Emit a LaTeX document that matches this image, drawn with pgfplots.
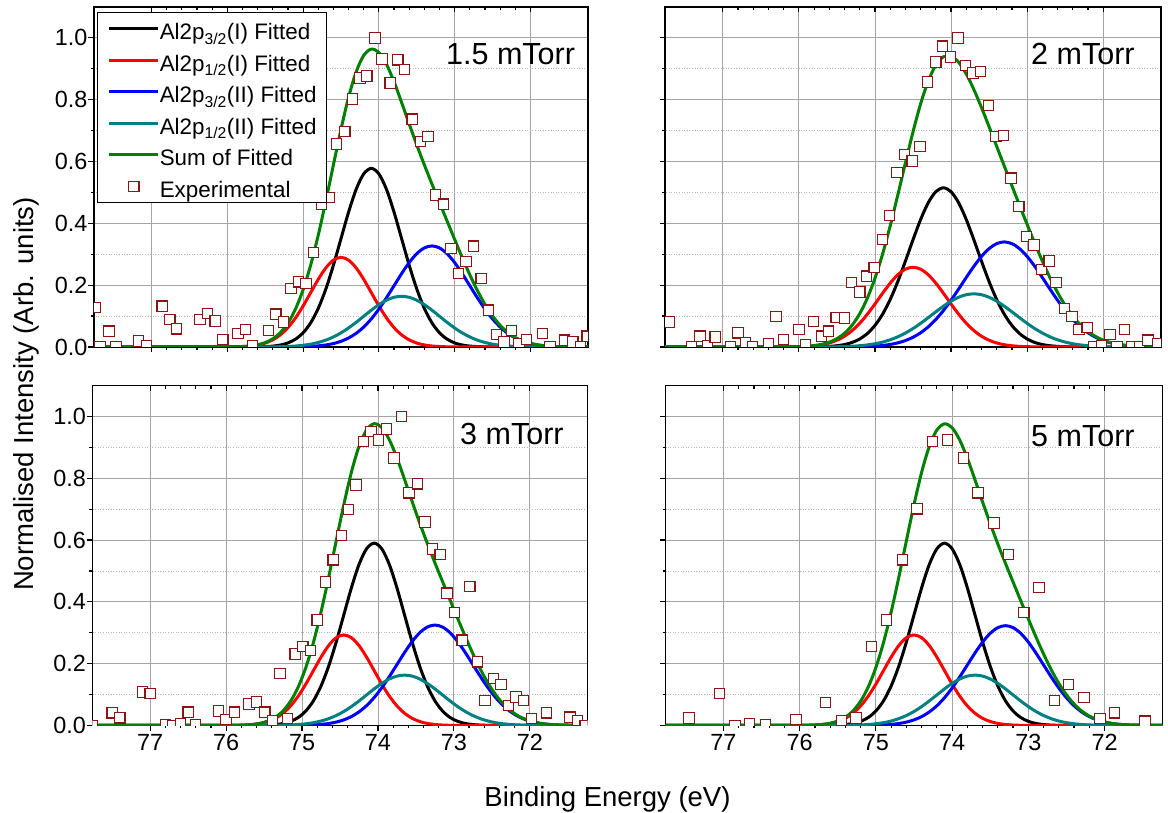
\documentclass[border=0pt]{standalone}
\usepackage{pgfplots}
\pgfplotsset{compat=1.18}
\usepackage{pgfplotstable}
\usepackage{fontspec}
\setmainfont{Liberation Sans}

\definecolor{fitred}{RGB}{255,0,0}
\definecolor{fitblue}{RGB}{0,0,255}
\definecolor{fitteal}{RGB}{0,128,128}
\definecolor{fitgreen}{RGB}{0,128,0}
\definecolor{expred}{RGB}{140,20,20}
\definecolor{gridgray}{RGB}{165,165,165}
\definecolor{minorgray}{RGB}{185,185,185}

% Fitted components: x, Al2p3/2(I), Al2p1/2(I), Al2p3/2(II), Al2p1/2(II), sum
\pgfplotstableread{
x B R U T S
77.8 0 0 0 0 0
76.0 0 0.0003 0 0 0.0003
75.9 0 0.0006 0 0 0.0006
75.8 0.0001 0.0015 0 0 0.0016
75.7 0.0002 0.0032 0 0 0.0034
75.6 0.0005 0.0066 0 0.0001 0.0072
75.5 0.0013 0.0127 0 0.0002 0.0142
75.4 0.0029 0.0231 0.0001 0.0005 0.0266
75.3 0.0064 0.0392 0.0001 0.0010 0.0467
75.2 0.0132 0.0627 0.0002 0.0018 0.0779
75.1 0.0254 0.0942 0.0005 0.0032 0.1233
75.0 0.0460 0.1328 0.0010 0.0056 0.1854
74.9 0.0782 0.1759 0.0020 0.0092 0.2653
74.8 0.1250 0.2189 0.0036 0.0146 0.3621
74.7 0.1877 0.2559 0.0065 0.0222 0.4723
74.6 0.2646 0.2811 0.0111 0.0325 0.5893
74.5 0.3506 0.2900 0.0183 0.0456 0.7045
74.4 0.4363 0.2811 0.0291 0.0615 0.8080
74.3 0.5101 0.2559 0.0442 0.0798 0.8900
74.2 0.5602 0.2189 0.0647 0.0995 0.9433
74.1 0.5780 0.1759 0.0909 0.1191 0.9639
74.0 0.5602 0.1328 0.1227 0.1370 0.9527
73.9 0.5101 0.0942 0.1592 0.1514 0.9149
73.8 0.4363 0.0627 0.1983 0.1608 0.8581
73.7 0.3506 0.0392 0.2374 0.1640 0.7912
73.6 0.2646 0.0231 0.2731 0.1608 0.7216
73.5 0.1877 0.0127 0.3019 0.1514 0.6537
73.4 0.1250 0.0066 0.3205 0.1370 0.5891
73.3 0.0782 0.0032 0.3270 0.1191 0.5275
73.2 0.0460 0.0015 0.3205 0.0995 0.4675
73.1 0.0254 0.0006 0.3019 0.0798 0.4077
73.0 0.0132 0.0003 0.2731 0.0615 0.3481
72.9 0.0064 0.0001 0.2374 0.0456 0.2895
72.8 0.0029 0 0.1983 0.0325 0.2337
72.7 0.0013 0 0.1592 0.0222 0.1827
72.6 0.0005 0 0.1227 0.0146 0.1378
72.5 0.0002 0 0.0909 0.0092 0.1003
72.4 0.0001 0 0.0647 0.0056 0.0704
72.3 0 0 0.0442 0.0032 0.0474
72.2 0 0 0.0291 0.0018 0.0309
72.1 0 0 0.0183 0.0010 0.0193
72.0 0 0 0.0111 0.0005 0.0116
71.9 0 0 0.0065 0.0002 0.0067
71.8 0 0 0.0036 0.0001 0.0037
71.7 0 0 0.0020 0 0.0020
71.6 0 0 0.0010 0 0.0010
71.2 0 0 0 0 0
}\fitA

\pgfplotstableread{
x B R U T S
77.8 0 0 0 0 0
76.1 0 0.0005 0 0 0.0005
76.0 0.0001 0.0010 0 0 0.0011
75.9 0.0002 0.0020 0 0.0001 0.0023
75.8 0.0004 0.0040 0 0.0001 0.0045
75.7 0.0009 0.0074 0 0.0002 0.0085
75.6 0.0020 0.0130 0.0001 0.0004 0.0155
75.5 0.0041 0.0219 0.0001 0.0008 0.0269
75.4 0.0079 0.0349 0.0002 0.0014 0.0444
75.3 0.0147 0.0531 0.0004 0.0025 0.0707
75.2 0.0260 0.0769 0.0009 0.0042 0.1080
75.1 0.0436 0.1061 0.0016 0.0067 0.1580
75.0 0.0697 0.1392 0.0029 0.0105 0.2223
74.9 0.1060 0.1738 0.0049 0.0159 0.3006
74.8 0.1536 0.2066 0.0083 0.0233 0.3918
74.7 0.2117 0.2337 0.0133 0.0329 0.4916
74.6 0.2778 0.2517 0.0208 0.0451 0.5954
74.5 0.3469 0.2580 0.0315 0.0597 0.6961
74.4 0.4124 0.2517 0.0460 0.0765 0.7866
74.3 0.4666 0.2337 0.0651 0.0949 0.8603
74.2 0.5024 0.2066 0.0891 0.1138 0.9119
74.1 0.5150 0.1738 0.1180 0.1320 0.9388
74.0 0.5024 0.1392 0.1513 0.1482 0.9411
73.9 0.4666 0.1061 0.1875 0.1610 0.9212
73.8 0.4124 0.0769 0.2249 0.1692 0.8834
73.7 0.3469 0.0531 0.2610 0.1720 0.8330
73.6 0.2778 0.0349 0.2930 0.1692 0.7749
73.5 0.2117 0.0219 0.3182 0.1610 0.7128
73.4 0.1536 0.0130 0.3344 0.1482 0.6492
73.3 0.1060 0.0074 0.3400 0.1320 0.5854
73.2 0.0697 0.0040 0.3344 0.1138 0.5219
73.1 0.0436 0.0020 0.3182 0.0949 0.4587
73.0 0.0260 0.0010 0.2930 0.0765 0.3965
72.9 0.0147 0.0005 0.2610 0.0597 0.3359
72.8 0.0079 0.0002 0.2249 0.0451 0.2781
72.7 0.0041 0.0001 0.1875 0.0329 0.2246
72.6 0.0020 0 0.1513 0.0233 0.1766
72.5 0.0009 0 0.1180 0.0159 0.1348
72.4 0.0004 0 0.0891 0.0105 0.1000
72.3 0.0002 0 0.0651 0.0067 0.0720
72.2 0.0001 0 0.0460 0.0042 0.0503
72.1 0 0 0.0315 0.0025 0.0340
72.0 0 0 0.0208 0.0014 0.0222
71.9 0 0 0.0133 0.0008 0.0141
71.8 0 0 0.0083 0.0004 0.0087
71.7 0 0 0.0049 0.0002 0.0051
71.6 0 0 0.0029 0.0001 0.0030
71.5 0 0 0.0016 0 0.0016
71.4 0 0 0.0009 0 0.0009
71.2 0 0 0 0 0
}\fitB

\pgfplotstableread{
x B R U T S
77.8 0 0 0 0 0
75.95 0 0.0003 0 0 0.0003
75.85 0 0.0006 0 0 0.0006
75.75 0.0001 0.0015 0 0 0.0016
75.65 0.0002 0.0033 0 0 0.0035
75.55 0.0005 0.0067 0 0.0001 0.0073
75.45 0.0013 0.0129 0 0.0002 0.0144
75.35 0.0030 0.0233 0.0001 0.0005 0.0269
75.25 0.0065 0.0396 0.0001 0.0010 0.0472
75.15 0.0135 0.0634 0.0002 0.0018 0.0789
75.05 0.0259 0.0951 0.0005 0.0032 0.1247
74.95 0.0470 0.1341 0.0010 0.0055 0.1876
74.85 0.0798 0.1777 0.0020 0.0091 0.2686
74.75 0.1276 0.2212 0.0036 0.0145 0.3669
74.65 0.1916 0.2586 0.0064 0.0221 0.4787
74.55 0.2701 0.2840 0.0111 0.0323 0.5975
74.45 0.3578 0.2930 0.0182 0.0453 0.7143
74.35 0.4453 0.2840 0.0289 0.0612 0.8194
74.25 0.5207 0.2586 0.0440 0.0793 0.9026
74.15 0.5718 0.2212 0.0643 0.0989 0.9562
74.05 0.5900 0.1777 0.0904 0.1184 0.9765
73.95 0.5718 0.1341 0.1220 0.1362 0.9641
73.85 0.5207 0.0951 0.1582 0.1505 0.9245
73.75 0.4453 0.0634 0.1971 0.1598 0.8656
73.65 0.3578 0.0396 0.2360 0.1630 0.7964
73.55 0.2701 0.0233 0.2715 0.1598 0.7247
73.45 0.1916 0.0129 0.3000 0.1505 0.6550
73.35 0.1276 0.0067 0.3186 0.1362 0.5891
73.25 0.0798 0.0033 0.3250 0.1184 0.5265
73.15 0.0470 0.0015 0.3186 0.0989 0.4660
73.05 0.0259 0.0006 0.3000 0.0793 0.4058
72.95 0.0135 0.0003 0.2715 0.0612 0.3465
72.85 0.0065 0.0001 0.2360 0.0453 0.2879
72.75 0.0030 0 0.1971 0.0323 0.2324
72.65 0.0013 0 0.1582 0.0221 0.1816
72.55 0.0005 0 0.1220 0.0145 0.1370
72.45 0.0002 0 0.0904 0.0091 0.0997
72.35 0.0001 0 0.0643 0.0055 0.0699
72.25 0 0 0.0440 0.0032 0.0472
72.15 0 0 0.0289 0.0018 0.0307
72.05 0 0 0.0182 0.0010 0.0192
71.95 0 0 0.0111 0.0005 0.0116
71.85 0 0 0.0064 0.0002 0.0066
71.75 0 0 0.0036 0.0001 0.0037
71.65 0 0 0.0020 0 0.0020
71.55 0 0 0.0010 0 0.0010
71.2 0 0 0 0 0
}\fitC

\pgfplotstableread{
x B R U T S
77.8 0 0 0 0 0
76.0 0 0.0003 0 0 0.0003
75.9 0 0.0006 0 0 0.0006
75.8 0.0001 0.0015 0 0 0.0016
75.7 0.0002 0.0033 0 0 0.0035
75.6 0.0005 0.0067 0 0.0001 0.0073
75.5 0.0013 0.0129 0 0.0002 0.0144
75.4 0.0030 0.0233 0.0001 0.0005 0.0269
75.3 0.0065 0.0396 0.0001 0.0010 0.0472
75.2 0.0135 0.0634 0.0002 0.0018 0.0789
75.1 0.0259 0.0951 0.0005 0.0032 0.1247
75.0 0.0470 0.1341 0.0010 0.0055 0.1876
74.9 0.0798 0.1777 0.0019 0.0091 0.2685
74.8 0.1276 0.2212 0.0036 0.0145 0.3669
74.7 0.1916 0.2586 0.0064 0.0221 0.4787
74.6 0.2701 0.2840 0.0110 0.0323 0.5974
74.5 0.3578 0.2930 0.0181 0.0453 0.7142
74.4 0.4453 0.2840 0.0287 0.0612 0.8192
74.3 0.5207 0.2586 0.0437 0.0793 0.9023
74.2 0.5718 0.2212 0.0639 0.0989 0.9558
74.1 0.5900 0.1777 0.0898 0.1184 0.9759
74.0 0.5718 0.1341 0.1212 0.1362 0.9633
73.9 0.5207 0.0951 0.1572 0.1505 0.9235
73.8 0.4453 0.0634 0.1959 0.1598 0.8644
73.7 0.3578 0.0396 0.2345 0.1630 0.7949
73.6 0.2701 0.0233 0.2698 0.1598 0.7230
73.5 0.1916 0.0129 0.2982 0.1505 0.6532
73.4 0.1276 0.0067 0.3166 0.1362 0.5871
73.3 0.0798 0.0033 0.3230 0.1184 0.5245
73.2 0.0470 0.0015 0.3166 0.0989 0.4640
73.1 0.0259 0.0006 0.2982 0.0793 0.4040
73.0 0.0135 0.0003 0.2698 0.0612 0.3448
72.9 0.0065 0.0001 0.2345 0.0453 0.2864
72.8 0.0030 0 0.1959 0.0323 0.2312
72.7 0.0013 0 0.1572 0.0221 0.1806
72.6 0.0005 0 0.1212 0.0145 0.1362
72.5 0.0002 0 0.0898 0.0091 0.0991
72.4 0.0001 0 0.0639 0.0055 0.0695
72.3 0 0 0.0437 0.0032 0.0469
72.2 0 0 0.0287 0.0018 0.0305
72.1 0 0 0.0181 0.0010 0.0191
72.0 0 0 0.0110 0.0005 0.0115
71.9 0 0 0.0064 0.0002 0.0066
71.8 0 0 0.0036 0.0001 0.0037
71.7 0 0 0.0019 0 0.0019
71.6 0 0 0.0010 0 0.0010
71.2 0 0 0 0 0
}\fitD

% Experimental spectra
\pgfplotstableread{
x y
77.74 0.127
77.68 0.000
77.56 0.051
77.47 0.000
77.17 0.019
77.07 0.003
76.86 0.132
76.76 0.089
76.67 0.059
76.36 0.089
76.26 0.108
76.16 0.084
76.06 0.024
75.86 0.043
75.76 0.056
75.67 0.003
75.46 0.054
75.36 0.106
75.26 0.081
75.16 0.189
75.06 0.211
74.96 0.205
74.86 0.306
74.76 0.462
74.66 0.484
74.56 0.657
74.45 0.697
74.35 0.802
74.25 0.870
74.16 0.877
74.05 1.000
73.96 0.932
73.85 0.854
73.75 0.929
73.66 0.897
73.56 0.737
73.45 0.665
73.35 0.681
73.25 0.492
73.15 0.462
73.05 0.319
72.95 0.238
72.85 0.276
72.75 0.326
72.65 0.221
72.55 0.119
72.45 0.040
72.35 0.016
72.25 0.054
72.15 0.011
72.05 0.024
71.84 0.043
71.74 0.000
71.55 0.022
71.44 0.016
71.34 0.000
71.25 0.035
}\expA

\pgfplotstableread{
x y
77.70 0.081
77.41 0.000
77.30 0.035
77.20 0.005
77.10 0.032
76.90 0.000
76.80 0.046
76.70 0.013
76.61 0.000
76.40 0.011
76.30 0.099
76.20 0.025
76.00 0.057
75.91 0.008
75.81 0.083
75.70 0.035
75.61 0.051
75.51 0.095
75.40 0.094
75.31 0.209
75.20 0.178
75.11 0.229
75.01 0.257
74.90 0.348
74.81 0.425
74.71 0.564
74.61 0.622
74.51 0.602
74.41 0.649
74.31 0.857
74.20 0.922
74.11 0.973
74.01 0.938
73.91 1.000
73.81 0.911
73.71 0.886
73.61 0.892
73.51 0.781
73.41 0.681
73.31 0.684
73.21 0.546
73.11 0.454
73.01 0.357
72.91 0.330
72.81 0.251
72.71 0.278
72.62 0.209
72.51 0.124
72.41 0.099
72.32 0.057
72.21 0.063
72.12 0.000
72.02 0.005
71.91 0.040
71.82 0.000
71.72 0.057
71.62 0.000
71.52 0.000
71.41 0.022
71.28 0.011
}\expB

\pgfplotstableread{
x y
77.76 0.000
77.50 0.041
77.40 0.025
77.10 0.108
77.00 0.103
76.80 0.002
76.70 0.000
76.60 0.005
76.50 0.043
76.40 0.002
76.10 0.047
76.00 0.020
75.89 0.043
75.70 0.070
75.60 0.076
75.49 0.043
75.39 0.016
75.29 0.168
75.19 0.022
75.09 0.231
74.99 0.255
74.89 0.242
74.80 0.341
74.69 0.464
74.59 0.536
74.48 0.614
74.39 0.699
74.29 0.778
74.19 0.919
74.09 0.951
73.99 0.924
73.89 0.959
73.79 0.865
73.69 1.000
73.59 0.753
73.48 0.782
73.38 0.658
73.28 0.571
73.18 0.553
73.09 0.428
72.99 0.365
72.89 0.276
72.79 0.450
72.69 0.206
72.59 0.081
72.48 0.152
72.38 0.133
72.28 0.065
72.18 0.092
72.08 0.081
71.98 0.022
71.78 0.041
71.47 0.027
71.37 0.016
71.27 0.000
}\expC

\pgfplotstableread{
x y
77.45 0.024
77.05 0.103
76.85 0.000
76.66 0.005
76.45 0.002
76.05 0.020
75.66 0.074
75.45 0.016
75.26 0.024
75.06 0.255
74.86 0.341
74.65 0.536
74.46 0.701
74.26 0.919
74.06 0.924
73.85 0.865
73.66 0.753
73.45 0.655
73.26 0.553
73.06 0.365
72.86 0.447
72.66 0.081
72.47 0.133
72.27 0.090
72.06 0.022
71.87 0.041
71.47 0.014
}\expD

\pgfplotsset{
  xpsaxis/.style={
    scale only axis, height=340bp, anchor=south west,
    xmin=71.24, xmax=77.76, x dir=reverse,
    ymin=0, ymax=1.1,
    xtick={72,73,74,75,76,77}, minor x tick num=4,
    ytick={0,0.2,0.4,0.6,0.8,1.0}, minor y tick num=1,
    xtick pos=bottom, ytick pos=left, tick align=outside,
    major tick length=5.5bp, minor tick length=3bp,
    tick style={black, line width=1.2bp},
    xmajorgrids, ymajorgrids, yminorgrids,
    major grid style={gridgray, line width=0.9bp},
    minor grid style={minorgray, line width=0.8bp, dash pattern=on 1bp off 1.6bp},
    axis line style={black, line width=1.6bp},
    ticklabel style={font=\fontsize{23.4bp}{28bp}\selectfont},
    /pgf/number format/assume math mode=true,
    yticklabel style={xshift=2.5bp, /pgf/number format/.cd, fixed, fixed zerofill, precision=1},
    clip marker paths=true,
    legend image code/.code={\draw[#1] (0bp,0bp) -- (49bp,0bp);},
  },
  topticks/.style={
    scale only axis, height=340bp, anchor=south west,
    xmin=71.24, xmax=77.76, x dir=reverse,
    ymin=0, ymax=1.1,
    axis x line*=top, axis y line=none,
    xtick={72,73,74,75,76,77}, minor x tick num=4, xticklabels={},
    tick align=inside, major tick length=5.5bp, minor tick length=3.5bp,
    tick style={black, line width=1.2bp},
    axis line style={black, line width=1.6bp},
  },
  cB/.style={black, line width=3bp, smooth},
  cR/.style={fitred, line width=3bp, smooth},
  cU/.style={fitblue, line width=3bp, smooth},
  cT/.style={fitteal, line width=3bp, smooth},
  cS/.style={fitgreen, line width=3bp, smooth},
  cE/.style={only marks, mark=square*, mark size=5.2bp,
    mark options={draw=expred, fill=white, line width=1.1bp},
    legend image code/.code={\draw[##1] plot coordinates {(24.5bp,0bp)};}},
}

\newcommand{\fitcurves}[1]{%
  \addplot[cB] table[x=x,y=B]{#1};
  \addplot[cR] table[x=x,y=R]{#1};
  \addplot[cU] table[x=x,y=U]{#1};
  \addplot[cT] table[x=x,y=T]{#1};
  \addplot[cS] table[x=x,y=S]{#1};
}

\begin{document}
\begin{tikzpicture}
\useasboundingbox (0bp,0bp) rectangle (1168bp,813bp);

% 1.5 mTorr
\begin{axis}[xpsaxis, at={(94bp,466bp)}, width=494bp, xticklabels={},
  legend style={at={(0,1)}, anchor=north west, xshift=3.3bp, yshift=-5.3bp,
    draw=black, line width=1bp, fill=white,
    font=\fontsize{22.4bp}{26bp}\selectfont,
    inner xsep=10bp, inner ysep=2bp, row sep=3.5bp,
    nodes={inner sep=0bp, text height=25bp, text depth=3bp},
    /tikz/column 2/.style={column sep=7.7bp}},
  legend cell align=left]
\fitcurves{\fitA}
\addplot[cE] table{\expA};
\legend{Al2p\textsubscript{3/2}(I) Fitted, Al2p\textsubscript{1/2}(I) Fitted,
  Al2p\textsubscript{3/2}(II) Fitted, Al2p\textsubscript{1/2}(II) Fitted,
  Sum of Fitted, Experimental}
\end{axis}
\begin{axis}[topticks, at={(94bp,466bp)}, width=494bp]\end{axis}

% 2 mTorr
\begin{axis}[xpsaxis, at={(665bp,466bp)}, width=496bp, xticklabels={}, yticklabels={}]
\fitcurves{\fitB}
\addplot[cE] table{\expB};
\end{axis}
\begin{axis}[topticks, at={(665bp,466bp)}, width=496bp]\end{axis}

% 3 mTorr
\begin{axis}[xpsaxis, at={(92.5bp,87.5bp)}, width=495bp]
\fitcurves{\fitC}
\addplot[cE] table{\expC};
\end{axis}
\begin{axis}[topticks, at={(92.5bp,87.5bp)}, width=495bp]\end{axis}

% 5 mTorr
\begin{axis}[xpsaxis, at={(665.5bp,87.5bp)}, width=497bp, yticklabels={}]
\fitcurves{\fitD}
\addplot[cE] table{\expD};
\end{axis}
\begin{axis}[topticks, at={(665.5bp,87.5bp)}, width=497bp]\end{axis}

% pressure labels
\begin{scope}[every node/.style={inner sep=0pt, anchor=base west, font=\fontsize{30.5bp}{36bp}\selectfont}]
\node at (446bp,748bp) {1.5 mTorr};
\node at (1031bp,748bp) {2 mTorr};
\node at (460bp,368bp) {3 mTorr};
\node at (1031bp,366.5bp) {5 mTorr};
\end{scope}

% axis titles
\node[inner sep=0pt, anchor=base, font=\fontsize{27.5bp}{32bp}\selectfont] at (607.5bp,6.5bp) {Binding Energy (eV)};
\node[inner sep=0pt, anchor=base, rotate=90, font=\fontsize{27.5bp}{32bp}\selectfont] at (33bp,419bp) {Normalised Intensity (Arb. units)};
\end{tikzpicture}
\end{document}
